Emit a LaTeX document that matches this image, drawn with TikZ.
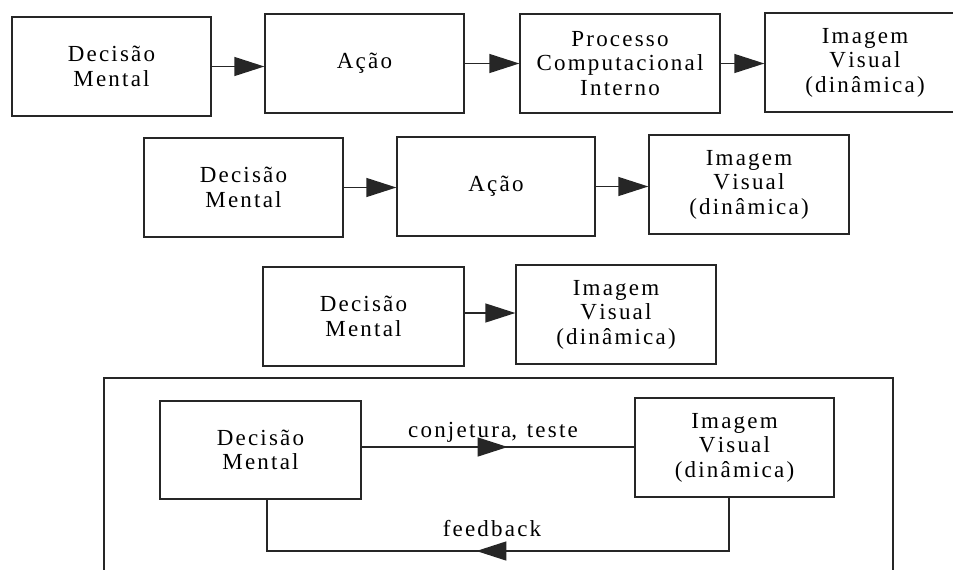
\documentclass[tikz,border=0pt]{standalone}
\usepackage{fontspec}
\newfontfamily\diagfont{Liberation Serif}
\usetikzlibrary{arrows.meta,decorations.markings}

% wide tracking: a kern between consecutive letters of the labels
\newXeTeXintercharclass\lsclass
\def\setls#1{\ifx#1\relax\else\XeTeXcharclass`#1=\lsclass\expandafter\setls\fi}
\setls abcdefghijklmnopqrstuvwxyzABCDEFGHIJKLMNOPQRSTUVWXYZçãâ()\relax
\XeTeXinterchartoks\lsclass\lsclass={\kern2.2pt\relax}
\newcommand\diagtext{\diagfont\fontsize{23}{24.5}\selectfont\XeTeXinterchartokenstate=1 }

\begin{document}
\begin{tikzpicture}[x=1pt,y=-1pt,
  box/.style={draw=black!85, line width=1.3pt, align=center, inner sep=0pt,
    minimum width=200pt, minimum height=99pt, font=\diagtext},
  lbl/.style={inner sep=0pt, anchor=base, font=\diagtext},
  tip/.style={-{Triangle[length=30pt,width=19pt]}},
  link/.style={draw=black!85, line width=1.3pt},
  midtip/.style={link, postaction={decorate},
    decoration={markings, mark=at position #1 with {\arrow{Triangle[length=30pt,width=19pt]}}}}
]
\useasboundingbox (0,0) rectangle (953,570);

% first chain: decision, action, internal computation, image
\node[box, minimum width=199pt] (a1) at (111.5,66.5) {Decisão\\Mental};
\node[box, minimum width=199pt] (a2) at (364.5,63.5) {Ação};
\node[box] (a3) at (620,63.5) {Processo\\Computacional\\Interno};
\node[box] (a4) at (865,62.5) {Imagem\\Visual\\(dinâmica)};
\draw[link, tip] (a1.east) -- (a1.east -| a2.west);
\draw[link, tip] (a2.east) -- (a2.east -| a3.west);
\draw[link, tip] (a3.east) -- (a3.east -| a4.west);

% second chain: decision, action, image
\node[box, minimum width=199pt] (b1) at (243.5,187.5) {Decisão\\Mental};
\node[box, minimum width=198pt] (b2) at (496,186.5) {Ação};
\node[box] (b3) at (749,184.5) {Imagem\\Visual\\(dinâmica)};
\draw[link, tip] (b1.east) -- (b1.east -| b2.west);
\draw[link, tip] (b2.east) -- (b2.east -| b3.west);

% third chain: decision straight to image
\node[box, minimum width=201pt] (c1) at (363.5,316.5) {Decisão\\Mental};
\node[box] (c2) at (616,314.5) {Imagem\\Visual\\(dinâmica)};
\draw[link, tip] ([yshift=3.5pt]c1.east) -- ([yshift=3.5pt]c1.east -| c2.west);

% framed loop with feedback
\draw[link] (104,575) -- (104,378) -- (893,378) -- (893,575);
\node[box, minimum width=201pt, minimum height=98pt] (d1) at (260.5,450) {Decisão\\Mental};
\node[box, minimum width=199pt] (d2) at (734.5,447.5) {Imagem\\Visual\\(dinâmica)};
\draw[midtip=146pt] ([yshift=3pt]d1.east) -- ([yshift=3pt]d1.east -| d2.west);
\node[lbl] (conj) at (493,437) {conjetura,\kern4pt{} teste};

\coordinate (fbR) at (729,551);
\coordinate (fbL) at (267,551);
\draw[midtip=306pt] (d2.south -| fbR) -- (fbR) -- (fbL) -- (d1.south -| fbL);
\node[lbl] (fb) at (492,536) {feedback};
\end{tikzpicture}
\end{document}
